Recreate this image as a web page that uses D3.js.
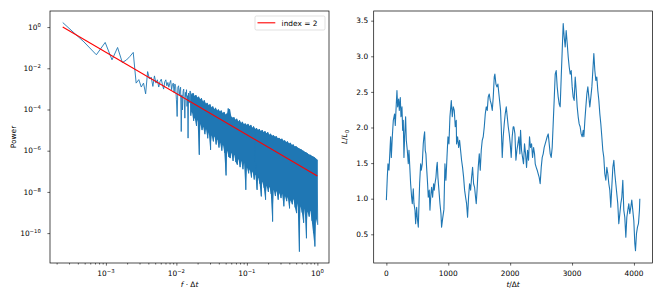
<!doctype html>
<html lang="en">
<head>
<meta charset="utf-8">
<title>Power spectrum and time series</title>
<script src="https://d3js.org/d3.v7.min.js"></script>
<style>
    body { margin: 0; background: #fff; }
    svg { display: block; font-family: "DejaVu Sans", sans-serif; }
    text { font-size: 7.4px; fill: #000; }
    .it { font-style: italic; }
</style>
</head>
<body>
<svg id="chart" width="664" height="302"></svg>
<script>
// ---- left panel: power spectrum ----
// lowest frequency bins (f = bin / nSamples), read one by one
const nSamples = 4096;
const lowBin = [1, 2, 3, 4, 5, 6, 7, 8, 9, 10, 11, 12, 13, 14, 15, 16, 17, 18, 19, 20,
    21, 22, 23, 24, 25, 26, 27, 28, 29, 30, 31, 32, 33, 34, 35, 36, 37, 38, 39, 40,
    41, 42, 43, 44, 45, 46, 47, 48, 49, 50, 51, 52, 53, 54, 55, 56, 57, 58, 59, 60,
    61, 62, 63];
const lowLogP = [0.22, -0.72, -1.345, -0.745, -1.59, -0.99, -1.72, -1.60, -1.42, -1.23,
    -2.72, -2.55, -2.91, -2.72, -3.24, -2.16, -2.52, -2.43, -2.88, -2.37,
    -2.72, -2.56, -2.91, -2.64, -2.53, -2.80, -3.01, -2.66, -2.56, -2.85,
    -2.69, -2.92, -2.72, -2.59, -3.04, -2.80, -2.72, -3.17, -2.76, -2.90,
    -3.53, -4.34, -2.92, -2.85, -3.29, -3.04, -2.92, -5.07, -3.29, -4.02,
    -3.12, -3.01, -3.53, -4.42, -3.17, -3.37, -3.04, -3.85, -3.33, -5.39,
    -3.20, -3.69, -3.45];

// dense part of the spectrum: upper and lower reach of the trace per 0.02 decade
const bandLogF = [-1.80, -1.78, -1.76, -1.74, -1.72, -1.70, -1.68, -1.66, -1.64, -1.62,
    -1.60, -1.58, -1.56, -1.54, -1.52, -1.50, -1.48, -1.46, -1.44, -1.42,
    -1.40, -1.38, -1.36, -1.34, -1.32, -1.30, -1.28, -1.26, -1.24, -1.22,
    -1.20, -1.18, -1.16, -1.14, -1.12, -1.10, -1.08, -1.06, -1.04, -1.02,
    -1.00, -0.98, -0.96, -0.94, -0.92, -0.90, -0.88, -0.86, -0.84, -0.82,
    -0.80, -0.78, -0.76, -0.74, -0.72, -0.70, -0.68, -0.66, -0.64, -0.62,
    -0.60, -0.58, -0.56, -0.54, -0.52, -0.50, -0.48, -0.46, -0.44, -0.42,
    -0.40, -0.38, -0.36, -0.34, -0.32, -0.30, -0.28, -0.26, -0.24, -0.22,
    -0.20, -0.18, -0.16, -0.14, -0.12, -0.10, -0.08, -0.06, -0.04, -0.02,
    0.00];
const bandHi = [-3.10, -3.28, -3.20, -3.35, -3.30, -3.42, -3.38, -3.50, -3.45, -3.62,
    -3.55, -3.72, -3.68, -3.80, -3.75, -3.90, -3.85, -3.98, -3.92, -4.05,
    -4.00, -4.10, -4.05, -4.18, -4.12, -4.25, -4.20, -3.95, -4.00, -4.35,
    -4.40, -4.38, -4.50, -4.45, -4.58, -4.52, -4.65, -4.60, -4.72, -4.68,
    -4.75, -4.70, -4.80, -4.75, -4.88, -4.82, -4.95, -4.90, -5.00, -4.95,
    -5.05, -5.00, -5.10, -5.05, -5.15, -5.10, -5.22, -5.18, -5.28, -5.25,
    -5.32, -5.30, -5.40, -5.38, -5.45, -5.42, -5.52, -5.50, -5.58, -5.55,
    -5.65, -5.62, -5.72, -5.70, -5.80, -5.78, -5.85, -5.88, -5.92, -5.95,
    -6.00, -6.05, -6.08, -6.12, -6.18, -6.20, -6.25, -6.28, -6.32, -6.38,
    -6.44];
const bandLo = [-4.30, -4.10, -4.55, -4.40, -4.80, -4.50, -6.20, -4.70, -5.00, -4.85,
    -5.20, -4.95, -5.40, -5.10, -5.96, -5.25, -5.55, -5.30, -5.70, -5.45,
    -5.85, -5.60, -6.00, -5.70, -6.10, -7.20, -6.00, -6.30, -6.36, -6.10,
    -6.50, -6.20, -6.55, -6.68, -6.40, -6.80, -6.50, -6.90, -6.60, -7.90,
    -6.80, -7.10, -6.90, -7.30, -7.00, -7.40, -7.15, -7.90, -7.30, -7.60,
    -8.22, -7.50, -7.80, -8.38, -7.70, -8.00, -7.75, -8.10, -9.44, -7.90,
    -8.20, -7.95, -8.38, -8.05, -8.30, -8.10, -8.70, -8.20, -8.45, -8.25,
    -8.80, -8.40, -8.60, -8.35, -8.75, -9.03, -8.55, -10.90, -8.70, -9.00,
    -9.50, -8.80, -10.25, -8.95, -9.20, -8.90, -9.40, -10.00, -10.65, -9.30,
    -9.60];

// fitted power law, index = 2 (end points)
const fitF = [0.000244, 1];
const fitP = [1, 5.96e-8];

const leftXExp = [-3, -2, -1, 0];
const leftYExp = [0, -2, -4, -6, -8, -10];
const leftMinor = [2e-4, 3e-4, 4e-4, 5e-4, 6e-4, 7e-4, 8e-4, 9e-4,
    2e-3, 3e-3, 4e-3, 5e-3, 6e-3, 7e-3, 8e-3, 9e-3,
    2e-2, 3e-2, 4e-2, 5e-2, 6e-2, 7e-2, 8e-2, 9e-2,
    0.2, 0.3, 0.4, 0.5, 0.6, 0.7, 0.8, 0.9];

// ---- right panel: L/L0 against t/dt ----
const seriesT = [0, 15, 26, 42, 58, 69, 80, 96, 112, 133, 144, 160, 171, 182, 198, 209, 225, 236, 252, 263,
    273, 284, 295, 311, 322, 338, 354, 365, 381, 392, 408, 419, 435, 446, 462, 473, 489, 499, 516, 527,
    537, 554, 564, 580, 596, 607, 618, 628, 639, 650, 666, 677, 693, 704, 720, 731, 747, 763, 774, 785,
    801, 812, 822, 833, 849, 866, 882, 892, 909, 930, 946, 962, 979, 995, 1011, 1027, 1049, 1065, 1081, 1097,
    1113, 1129, 1134, 1151, 1167, 1183, 1199, 1215, 1231, 1248, 1264, 1280, 1296, 1312, 1328, 1344, 1361, 1377, 1393, 1409,
    1425, 1441, 1452, 1468, 1484, 1501, 1517, 1533, 1549, 1565, 1582, 1598, 1614, 1630, 1646, 1662, 1678, 1694, 1711, 1727,
    1743, 1753, 1770, 1786, 1802, 1818, 1829, 1845, 1856, 1872, 1888, 1904, 1920, 1937, 1953, 1969, 1985, 2001, 2017, 2033,
    2049, 2060, 2077, 2093, 2109, 2125, 2141, 2157, 2168, 2184, 2200, 2216, 2232, 2249, 2265, 2281, 2297, 2313, 2329, 2346,
    2362, 2378, 2394, 2405, 2421, 2437, 2453, 2469, 2485, 2502, 2518, 2534, 2550, 2566, 2582, 2598, 2615, 2631, 2647, 2663,
    2679, 2695, 2711, 2728, 2744, 2760, 2776, 2792, 2808, 2825, 2841, 2857, 2873, 2889, 2905, 2922, 2938, 2954, 2970, 2986,
    3002, 3018, 3034, 3051, 3067, 3083, 3099, 3115, 3131, 3147, 3164, 3180, 3191, 3207, 3223, 3239, 3255, 3271, 3287, 3304,
    3320, 3336, 3352, 3368, 3384, 3400, 3416, 3433, 3449, 3465, 3481, 3497, 3513, 3529, 3546, 3562, 3578, 3594, 3610, 3626,
    3642, 3659, 3675, 3691, 3707, 3723, 3739, 3755, 3772, 3788, 3804, 3820, 3836, 3852, 3869, 3885, 3901, 3917, 3933, 3949,
    3965, 3981, 3998, 4014, 4025, 4041, 4057, 4073, 4089, 4095];
const seriesL = [0.98, 1.30, 1.49, 1.40, 1.68, 1.87, 1.58, 1.87, 2.10, 2.19, 2.03, 2.33, 2.52, 2.29, 2.40, 2.24, 2.42, 2.15, 2.29, 1.96,
    2.10, 1.58, 1.87, 2.15, 1.82, 1.68, 1.49, 1.68, 1.40, 1.21, 1.02, 0.93, 1.14, 0.93, 0.84, 0.65, 0.88, 0.74, 0.60, 0.93,
    1.21, 1.49, 1.40, 1.49, 1.77, 1.87, 1.94, 1.68, 1.63, 1.44, 1.21, 1.02, 1.12, 0.84, 1.07, 1.16, 1.02, 1.21, 1.12, 1.21,
    1.30, 1.44, 1.51, 1.30, 1.12, 0.93, 0.79, 0.60, 0.72, 0.85, 1.49, 1.26, 1.58, 1.87, 1.77, 2.15, 2.38, 2.15, 2.29, 2.24,
    2.01, 2.10, 1.77, 1.87, 1.72, 1.82, 1.68, 1.54, 1.44, 1.30, 1.12, 1.02, 0.93, 0.74, 1.02, 1.21, 1.12, 1.30, 1.44, 1.21,
    1.16, 1.02, 0.93, 1.16, 1.44, 1.63, 1.40, 1.68, 1.82, 1.87, 2.01, 2.19, 2.29, 2.24, 2.43, 2.47, 2.38, 2.33, 2.24, 2.43,
    2.71, 2.75, 2.61, 2.57, 2.61, 2.47, 2.38, 2.24, 2.01, 1.58, 1.87, 2.05, 2.19, 2.29, 2.15, 2.01, 1.91, 1.77, 1.58, 1.87,
    2.01, 2.01, 1.91, 1.54, 1.68, 1.77, 1.87, 1.63, 1.96, 1.68, 1.58, 1.49, 1.77, 1.63, 1.44, 1.68, 1.54, 1.87, 1.72, 1.77,
    1.58, 1.72, 1.63, 1.49, 1.44, 1.40, 1.35, 1.30, 1.21, 1.44, 1.58, 1.63, 1.72, 1.77, 1.82, 1.87, 1.91, 1.77, 1.63, 1.58,
    1.72, 2.05, 2.38, 2.75, 2.80, 2.57, 2.43, 2.33, 2.29, 2.71, 3.08, 3.46, 3.27, 3.13, 3.36, 3.18, 2.99, 2.85, 2.75, 2.80,
    2.57, 2.43, 2.38, 2.71, 2.52, 2.29, 2.15, 2.05, 2.01, 1.91, 1.87, 1.96, 1.87, 2.10, 2.29, 2.47, 2.57, 2.43, 2.29, 2.43,
    2.57, 2.80, 3.04, 2.80, 2.66, 2.71, 2.52, 2.38, 2.19, 2.05, 1.87, 1.68, 1.58, 1.35, 1.26, 1.44, 1.35, 1.21, 1.12, 0.88,
    1.16, 1.44, 1.54, 1.35, 1.21, 1.07, 0.93, 0.65, 0.79, 0.93, 1.02, 1.26, 0.84, 0.74, 0.46, 0.74, 0.84, 0.93, 0.79, 0.88,
    0.98, 0.84, 0.69, 0.37, 0.27, 0.51, 0.60, 0.65, 0.84, 1.00];

const rightXTicks = [0, 1000, 2000, 3000, 4000];
const rightYTicks = [0.5, 1.0, 1.5, 2.0, 2.5, 3.0, 3.5];

// ---- layout ----
const svg = d3.select("#chart");
const blue = "#1f77b4";
const leftBox = {x0: 50, x1: 329, y0: 11, y1: 263};
const rightBox = {x0: 373.7, x1: 652.5, y0: 11, y1: 263};

const xF = d3.scaleLog().domain([Math.pow(10, -3.793), Math.pow(10, 0.165)]).range([leftBox.x0, leftBox.x1]);
const yP = d3.scaleLog().domain([Math.pow(10, -11.45), Math.pow(10, 0.78)]).range([leftBox.y1, leftBox.y0]);
const xT = d3.scaleLinear().domain([-204.75, 4299.75]).range([rightBox.x0, rightBox.x1]);
const yL = d3.scaleLinear().domain([0.097, 3.636]).range([rightBox.y1, rightBox.y0]);

// spectrum trace: single bins first, then the dense band as a tight zigzag
const spec = lowBin.map((k, i) => [k / nSamples, Math.pow(10, lowLogP[i])]);
bandLogF.forEach((lf, i) => {
    spec.push([Math.pow(10, lf - 0.005), Math.pow(10, bandHi[i])]);
    spec.push([Math.pow(10, lf + 0.005), Math.pow(10, bandLo[i])]);
});

// the dense band is so crowded that it reads as a filled strip
const band = bandLogF.map((lf, i) => [Math.pow(10, lf), Math.pow(10, bandHi[i]), Math.pow(10, bandLo[i])]);
svg.append("path")
    .datum(band)
    .attr("fill", blue)
    .attr("d", d3.area().x(d => xF(d[0])).y0(d => yP(d[2])).y1(d => yP(d[1])));

svg.append("path")
    .datum(spec)
    .attr("fill", "none")
    .attr("stroke", blue)
    .attr("stroke-width", 0.9)
    .attr("stroke-linejoin", "round")
    .attr("d", d3.line().x(d => xF(d[0])).y(d => yP(d[1])));

svg.append("path")
    .datum(fitF.map((f, i) => [f, fitP[i]]))
    .attr("fill", "none")
    .attr("stroke", "red")
    .attr("stroke-width", 1.1)
    .attr("d", d3.line().x(d => xF(d[0])).y(d => yP(d[1])));

svg.append("path")
    .datum(seriesT.map((t, i) => [t, seriesL[i]]))
    .attr("fill", "none")
    .attr("stroke", blue)
    .attr("stroke-width", 1.1)
    .attr("stroke-linejoin", "round")
    .attr("d", d3.line().x(d => xT(d[0])).y(d => yL(d[1])));

// spines
[leftBox, rightBox].forEach(b => {
    svg.append("rect")
        .attr("x", b.x0).attr("y", b.y0)
        .attr("width", b.x1 - b.x0).attr("height", b.y1 - b.y0)
        .attr("fill", "none").attr("stroke", "#000").attr("stroke-width", 0.7);
});

function ticks(axis, values, size, translate) {
    const g = svg.append("g").attr("transform", translate)
        .call(axis.tickValues(values).tickSize(size).tickFormat(""));
    g.select(".domain").remove();
    g.selectAll("text").remove();
    g.selectAll("line").attr("stroke", "#000").attr("stroke-width", 0.6);
}

ticks(d3.axisBottom(xF), leftXExp.map(e => Math.pow(10, e)), 2.6, `translate(0,${leftBox.y1})`);
ticks(d3.axisBottom(xF), leftMinor, 1.5, `translate(0,${leftBox.y1})`);
ticks(d3.axisLeft(yP), leftYExp.map(e => Math.pow(10, e)), 2.6, `translate(${leftBox.x0},0)`);
ticks(d3.axisBottom(xT), rightXTicks, 2.6, `translate(0,${rightBox.y1})`);
ticks(d3.axisLeft(yL), rightYTicks, 2.6, `translate(${rightBox.x0},0)`);

function powerLabel(x, y, exp, anchor) {
    const t = svg.append("text").attr("x", x).attr("y", y).attr("text-anchor", anchor);
    t.append("tspan").text("10");
    t.append("tspan").attr("dy", -3.1).style("font-size", "5.3px")
        .text(exp === 0 ? "0" : "\u2212" + Math.abs(exp));
}

leftXExp.forEach(e => powerLabel(xF(Math.pow(10, e)), 276, e, "middle"));
leftYExp.forEach(e => powerLabel(leftBox.x0 - 9.2, yP(Math.pow(10, e)) + 2.7, e, "end"));

rightXTicks.forEach(v => {
    svg.append("text").attr("x", xT(v)).attr("y", 276)
        .attr("text-anchor", "middle").text(v);
});
rightYTicks.forEach(v => {
    svg.append("text").attr("x", rightBox.x0 - 5.6).attr("y", yL(v) + 2.7)
        .attr("text-anchor", "end").text(v.toFixed(1));
});

// axis titles
const fLabel = svg.append("text")
    .attr("x", (leftBox.x0 + leftBox.x1) / 2).attr("y", 287).attr("text-anchor", "middle");
fLabel.append("tspan").attr("class", "it").text("f");
fLabel.append("tspan").text(" \u00b7 \u0394");
fLabel.append("tspan").attr("class", "it").text("t");

const tLabel = svg.append("text")
    .attr("x", (rightBox.x0 + rightBox.x1) / 2).attr("y", 287).attr("text-anchor", "middle");
tLabel.append("tspan").attr("class", "it").text("t");
tLabel.append("tspan").text("/\u0394");
tLabel.append("tspan").attr("class", "it").text("t");

svg.append("text")
    .attr("transform", `translate(15.6,${(leftBox.y0 + leftBox.y1) / 2}) rotate(-90)`)
    .attr("text-anchor", "middle").text("Power");

const lLabel = svg.append("text")
    .attr("transform", `translate(347.4,${(rightBox.y0 + rightBox.y1) / 2}) rotate(-90)`)
    .attr("text-anchor", "middle");
lLabel.append("tspan").attr("class", "it").text("L");
lLabel.append("tspan").text("/");
lLabel.append("tspan").attr("class", "it").text("L");
lLabel.append("tspan").attr("dy", 1.6).style("font-size", "5.3px").text("0");

// legend
const legend = svg.append("g");
legend.append("rect")
    .attr("x", 255).attr("y", 16).attr("width", 70).attr("height", 14).attr("rx", 1.5)
    .attr("fill", "#fff").attr("fill-opacity", 0.8)
    .attr("stroke", "#ccc").attr("stroke-width", 0.6);
legend.append("line")
    .attr("x1", 257.5).attr("x2", 275.3).attr("y1", 22.8).attr("y2", 22.8)
    .attr("stroke", "red").attr("stroke-width", 1.1);
legend.append("text").attr("x", 281.6).attr("y", 25.6).text("index = 2");
</script>
</body>
</html>
